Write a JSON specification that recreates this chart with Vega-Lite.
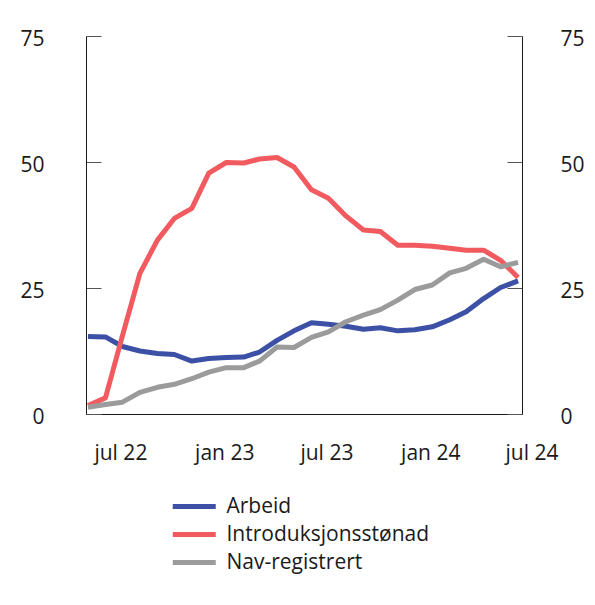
{
  "$schema": "https://vega.github.io/schema/vega-lite/v6.json",
  "width": 436,
  "height": 378,
  "autosize": {"type": "none"},
  "padding": {"left": 86, "top": 36, "right": 73, "bottom": 191},
  "background": "white",
  "config": {
    "view": {"stroke": null},
    "font": "Open Sans",
    "axis": {"labelFont": "Open Sans", "labelFontSize": 21, "labelColor": "#1a1a1a", "grid": false, "title": null}
  },
  "data": {
    "values": [
      {"date": "2022-05-01", "serie": "Arbeid", "verdi": 15.4},
      {"date": "2022-06-01", "serie": "Arbeid", "verdi": 15.3},
      {"date": "2022-07-01", "serie": "Arbeid", "verdi": 13.4},
      {"date": "2022-08-01", "serie": "Arbeid", "verdi": 12.5},
      {"date": "2022-09-01", "serie": "Arbeid", "verdi": 12.0},
      {"date": "2022-10-01", "serie": "Arbeid", "verdi": 11.8},
      {"date": "2022-11-01", "serie": "Arbeid", "verdi": 10.5},
      {"date": "2022-12-01", "serie": "Arbeid", "verdi": 11.0},
      {"date": "2023-01-01", "serie": "Arbeid", "verdi": 11.2},
      {"date": "2023-02-01", "serie": "Arbeid", "verdi": 11.3},
      {"date": "2023-03-01", "serie": "Arbeid", "verdi": 12.3},
      {"date": "2023-04-01", "serie": "Arbeid", "verdi": 14.6},
      {"date": "2023-05-01", "serie": "Arbeid", "verdi": 16.5},
      {"date": "2023-06-01", "serie": "Arbeid", "verdi": 18.1},
      {"date": "2023-07-01", "serie": "Arbeid", "verdi": 17.8},
      {"date": "2023-08-01", "serie": "Arbeid", "verdi": 17.4},
      {"date": "2023-09-01", "serie": "Arbeid", "verdi": 16.8},
      {"date": "2023-10-01", "serie": "Arbeid", "verdi": 17.1},
      {"date": "2023-11-01", "serie": "Arbeid", "verdi": 16.5},
      {"date": "2023-12-01", "serie": "Arbeid", "verdi": 16.7},
      {"date": "2024-01-01", "serie": "Arbeid", "verdi": 17.3},
      {"date": "2024-02-01", "serie": "Arbeid", "verdi": 18.7},
      {"date": "2024-03-01", "serie": "Arbeid", "verdi": 20.3},
      {"date": "2024-04-01", "serie": "Arbeid", "verdi": 22.9},
      {"date": "2024-05-01", "serie": "Arbeid", "verdi": 25.1},
      {"date": "2024-06-01", "serie": "Arbeid", "verdi": 26.4},
      {"date": "2022-05-01", "serie": "Introduksjonsstønad", "verdi": 1.7},
      {"date": "2022-06-01", "serie": "Introduksjonsstønad", "verdi": 3.2},
      {"date": "2022-07-01", "serie": "Introduksjonsstønad", "verdi": 15.5},
      {"date": "2022-08-01", "serie": "Introduksjonsstønad", "verdi": 27.9},
      {"date": "2022-09-01", "serie": "Introduksjonsstønad", "verdi": 34.5},
      {"date": "2022-10-01", "serie": "Introduksjonsstønad", "verdi": 38.8},
      {"date": "2022-11-01", "serie": "Introduksjonsstønad", "verdi": 40.8},
      {"date": "2022-12-01", "serie": "Introduksjonsstønad", "verdi": 47.8},
      {"date": "2023-01-01", "serie": "Introduksjonsstønad", "verdi": 49.9},
      {"date": "2023-02-01", "serie": "Introduksjonsstønad", "verdi": 49.8},
      {"date": "2023-03-01", "serie": "Introduksjonsstønad", "verdi": 50.6},
      {"date": "2023-04-01", "serie": "Introduksjonsstønad", "verdi": 50.9},
      {"date": "2023-05-01", "serie": "Introduksjonsstønad", "verdi": 49.0},
      {"date": "2023-06-01", "serie": "Introduksjonsstønad", "verdi": 44.5},
      {"date": "2023-07-01", "serie": "Introduksjonsstønad", "verdi": 42.8},
      {"date": "2023-08-01", "serie": "Introduksjonsstønad", "verdi": 39.3},
      {"date": "2023-09-01", "serie": "Introduksjonsstønad", "verdi": 36.5},
      {"date": "2023-10-01", "serie": "Introduksjonsstønad", "verdi": 36.2},
      {"date": "2023-11-01", "serie": "Introduksjonsstønad", "verdi": 33.5},
      {"date": "2023-12-01", "serie": "Introduksjonsstønad", "verdi": 33.5},
      {"date": "2024-01-01", "serie": "Introduksjonsstønad", "verdi": 33.3},
      {"date": "2024-02-01", "serie": "Introduksjonsstønad", "verdi": 32.9},
      {"date": "2024-03-01", "serie": "Introduksjonsstønad", "verdi": 32.5},
      {"date": "2024-04-01", "serie": "Introduksjonsstønad", "verdi": 32.5},
      {"date": "2024-05-01", "serie": "Introduksjonsstønad", "verdi": 30.5},
      {"date": "2024-06-01", "serie": "Introduksjonsstønad", "verdi": 27.1},
      {"date": "2022-05-01", "serie": "Nav-registrert", "verdi": 1.35},
      {"date": "2022-06-01", "serie": "Nav-registrert", "verdi": 1.9},
      {"date": "2022-07-01", "serie": "Nav-registrert", "verdi": 2.35},
      {"date": "2022-08-01", "serie": "Nav-registrert", "verdi": 4.3},
      {"date": "2022-09-01", "serie": "Nav-registrert", "verdi": 5.3},
      {"date": "2022-10-01", "serie": "Nav-registrert", "verdi": 5.9},
      {"date": "2022-11-01", "serie": "Nav-registrert", "verdi": 7.0},
      {"date": "2022-12-01", "serie": "Nav-registrert", "verdi": 8.3},
      {"date": "2023-01-01", "serie": "Nav-registrert", "verdi": 9.2},
      {"date": "2023-02-01", "serie": "Nav-registrert", "verdi": 9.2},
      {"date": "2023-03-01", "serie": "Nav-registrert", "verdi": 10.5},
      {"date": "2023-04-01", "serie": "Nav-registrert", "verdi": 13.3},
      {"date": "2023-05-01", "serie": "Nav-registrert", "verdi": 13.2},
      {"date": "2023-06-01", "serie": "Nav-registrert", "verdi": 15.2},
      {"date": "2023-07-01", "serie": "Nav-registrert", "verdi": 16.3},
      {"date": "2023-08-01", "serie": "Nav-registrert", "verdi": 18.3},
      {"date": "2023-09-01", "serie": "Nav-registrert", "verdi": 19.6},
      {"date": "2023-10-01", "serie": "Nav-registrert", "verdi": 20.7},
      {"date": "2023-11-01", "serie": "Nav-registrert", "verdi": 22.6},
      {"date": "2023-12-01", "serie": "Nav-registrert", "verdi": 24.7},
      {"date": "2024-01-01", "serie": "Nav-registrert", "verdi": 25.6},
      {"date": "2024-02-01", "serie": "Nav-registrert", "verdi": 28.0},
      {"date": "2024-03-01", "serie": "Nav-registrert", "verdi": 28.9},
      {"date": "2024-04-01", "serie": "Nav-registrert", "verdi": 30.7},
      {"date": "2024-05-01", "serie": "Nav-registrert", "verdi": 29.2},
      {"date": "2024-06-01", "serie": "Nav-registrert", "verdi": 30.1}
    ]
  },
  "encoding": {
    "x": {
      "field": "date",
      "type": "temporal",
      "scale": {
        "type": "utc",
        "domain": [
          {"year": 2022, "month": 4, "date": 27, "hours": 12, "utc": true},
          {"year": 2024, "month": 6, "date": 8, "utc": true}
        ]
      },
      "axis": {
        "values": [
          {"year": 2022, "month": 7, "date": 1, "utc": true},
          {"year": 2023, "month": 1, "date": 1, "utc": true},
          {"year": 2023, "month": 7, "date": 1, "utc": true},
          {"year": 2024, "month": 1, "date": 1, "utc": true},
          {"year": 2024, "month": 6, "date": 7, "utc": true}
        ],
        "labelExpr": "datum.value > 1717200000000 ? 'jul 24' : lower(utcFormat(datum.value, '%b %y'))",
        "ticks": false,
        "domainColor": "#1a1a1a",
        "domainWidth": 1.2,
        "labelPadding": 28,
        "labelOffset": {"condition": {"test": "datum.value > 1717200000000", "value": 10}, "value": -2},
        "labelFlush": false,
        "labelOverlap": false,
        "labelBound": false
      }
    },
    "y": {
      "field": "verdi",
      "type": "quantitative",
      "scale": {"domain": [0, 75], "nice": false, "zero": false}
    }
  },
  "layer": [
    {
      "mark": {"type": "line", "strokeWidth": 5, "strokeJoin": "round"},
      "encoding": {
        "y": {
          "field": "verdi",
          "type": "quantitative",
          "axis": {
            "orient": "left",
            "values": [0, 25, 50, 75],
            "tickSize": -15,
            "tickColor": "#555555",
            "domainColor": "#1a1a1a",
            "labelPadding": 57,
            "labelOffset": 3,
            "labelAlign": "right",
            "labelBaseline": "middle"
          }
        },
        "color": {
          "field": "serie",
          "type": "nominal",
          "scale": {
            "domain": ["Arbeid", "Introduksjonsstønad", "Nav-registrert"],
            "range": ["#3c51a6", "#f15a5f", "#9b9b9b"]
          },
          "legend": {
            "title": null,
            "orient": "none",
            "legendX": 94.75,
            "legendY": 457,
            "direction": "vertical",
            "padding": 0,
            "symbolType": "M-2,0H2",
            "symbolSize": 462,
            "symbolStrokeWidth": 5,
            "symbolFillColor": "transparent",
            "rowPadding": 4,
            "labelOffset": 18.75,
            "labelFont": "Open Sans",
            "labelFontSize": 21,
            "labelColor": "#1a1a1a",
            "labelLimit": 400
          }
        }
      }
    },
    {
      "mark": {"type": "line", "opacity": 0},
      "encoding": {
        "y": {
          "field": "verdi",
          "type": "quantitative",
          "axis": {
            "orient": "right",
            "values": [0, 25, 50, 75],
            "tickSize": -15,
            "tickColor": "#555555",
            "domainColor": "#1a1a1a",
            "labelPadding": 53,
            "labelOffset": 3,
            "labelAlign": "left",
            "labelBaseline": "middle"
          }
        },
        "detail": {"field": "serie", "type": "nominal"}
      }
    }
  ],
  "resolve": {"axis": {"y": "independent"}}
}
